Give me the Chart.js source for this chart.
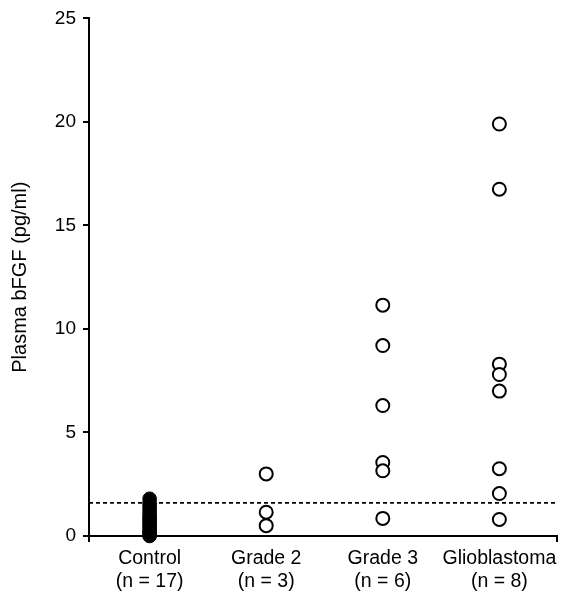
<!DOCTYPE html>
<html>
<head>
<meta charset="utf-8">
<script src="https://cdn.jsdelivr.net/npm/chart.js@4"></script>
<style>
  html, body { margin: 0; padding: 0; background: #fff; }
  #wrap { width: 565px; height: 599px; }
</style>
</head>
<body>
<div id="wrap"><canvas id="chart" width="565" height="599"></canvas></div>
<script>
// groups along the x axis
const groups = ['Control', 'Grade 2', 'Grade 3', 'Glioblastoma'];
const groupCounts = ['(n = 17)', '(n = 3)', '(n = 6)', '(n = 8)'];

// plasma bFGF values (pg/ml)
const controlValues = [0.0, 0.05, 0.15, 0.2, 0.3, 0.4, 0.5, 0.6, 0.7, 0.8, 0.9, 1.0, 1.15, 1.3, 1.45, 1.6, 1.8];
const grade2Values = [3.0, 1.15, 0.5];
const grade3Values = [11.15, 9.2, 6.3, 3.55, 3.15, 0.85];
const glioValues = [19.9, 16.75, 8.3, 7.8, 7.0, 3.25, 2.05, 0.8];

// dashed cut-off line
const cutoff = 1.6;
const yTicks = [0, 5, 10, 15, 20, 25];
const xMin = 0.48, xMax = 4.49;

const toPoints = (vals, pos) => vals.map(v => ({ x: pos, y: v }));

const font = 'Liberation Sans, Arial, sans-serif';

const ctx = document.getElementById('chart').getContext('2d');
const chart = new Chart(ctx, {
    type: 'scatter',
    data: {
        datasets: [
            {
                label: 'cutoff',
                type: 'line',
                data: [{ x: xMin, y: cutoff }, { x: xMax, y: cutoff }],
                borderColor: '#000',
                borderWidth: 1.6,
                borderDash: [4, 3],
                pointRadius: 0
            },
            {
                label: groups[0],
                data: toPoints(controlValues, 1),
                backgroundColor: '#000',
                borderColor: '#000',
                borderWidth: 1,
                pointRadius: 6.8
            },
            {
                label: groups[1],
                data: toPoints(grade2Values, 2),
                backgroundColor: '#fff',
                borderColor: '#000',
                borderWidth: 2,
                pointRadius: 6.5
            },
            {
                label: groups[2],
                data: toPoints(grade3Values, 3),
                backgroundColor: '#fff',
                borderColor: '#000',
                borderWidth: 2,
                pointRadius: 6.5
            },
            {
                label: groups[3],
                data: toPoints(glioValues, 4),
                backgroundColor: '#fff',
                borderColor: '#000',
                borderWidth: 2,
                pointRadius: 6.5
            }
        ]
    },
    options: {
        responsive: false,
        animation: false,
        clip: false,
        layout: { padding: { top: 17, right: 5, left: 0, bottom: 0 } },
        plugins: {
            legend: { display: false },
            tooltip: { enabled: false }
        },
        scales: {
            x: {
                type: 'linear',
                min: xMin,
                max: xMax,
                afterBuildTicks: (scale) => {
                    scale.ticks = [xMin, 1, 2, 3, 4, xMax].map(v => ({ value: v }));
                },
                afterFit: (scale) => { scale.height = 63; },
                border: { display: true, color: '#000', width: 2 },
                grid: {
                    drawOnChartArea: false,
                    drawTicks: true,
                    tickLength: 6,
                    color: (c) => (c.tick && (c.tick.value === xMin || c.tick.value === xMax)) ? '#000' : 'rgba(0,0,0,0)',
                    lineWidth: 2
                },
                ticks: {
                    autoSkip: false,
                    maxRotation: 0,
                    padding: 5,
                    color: '#000',
                    font: { family: font, size: 19.5, lineHeight: 1.18 },
                    callback: (v) => {
                        const i = Math.round(v) - 1;
                        if (Math.abs(v - Math.round(v)) > 0.001 || i < 0 || i > 3) return '';
                        return [groups[i], groupCounts[i]];
                    }
                }
            },
            y: {
                min: 0,
                max: 25,
                afterBuildTicks: (scale) => {
                    scale.ticks = yTicks.map(v => ({ value: v }));
                },
                afterFit: (scale) => { scale.width = 89; },
                border: { display: true, color: '#000', width: 2 },
                grid: {
                    drawOnChartArea: false,
                    drawTicks: true,
                    tickLength: 6,
                    color: '#000',
                    lineWidth: 2
                },
                ticks: {
                    padding: 7,
                    color: '#000',
                    font: { family: font, size: 19 }
                },
                title: {
                    display: true,
                    text: 'Plasma bFGF (pg/ml)',
                    color: '#000',
                    padding: { top: 8, bottom: 0 },
                    font: { family: font, size: 20 }
                }
            }
        }
    }
});
</script>
</body>
</html>
